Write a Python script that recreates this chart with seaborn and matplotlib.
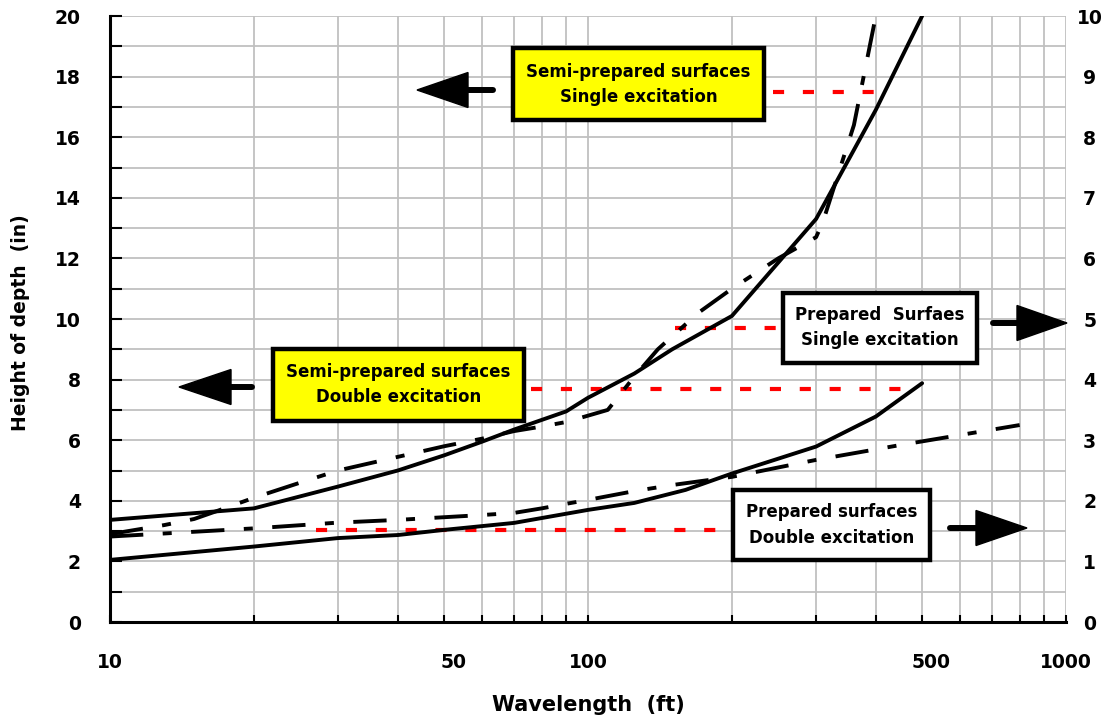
import matplotlib
matplotlib.use("Agg")
import matplotlib.pyplot as plt
import seaborn as sns
from matplotlib.patches import Rectangle, Polygon
from matplotlib.lines import Line2D
from matplotlib.transforms import ScaledTranslation
from matplotlib.ticker import FixedLocator, FixedFormatter, NullFormatter

# ---------------- data ----------------
upper_solid_x = [10, 20, 30, 40, 50, 60, 70, 90, 100, 125, 150, 200, 300, 400, 500]
upper_solid_y = [3.37, 3.75, 4.47, 5.0, 5.5, 5.95, 6.35, 6.95, 7.4, 8.2, 9.0, 10.1, 13.3, 16.9, 20.0]

upper_dash_x = [10, 13, 15, 17, 20, 25, 30, 40, 50, 60, 70, 80, 90, 110, 125, 140, 170, 200, 250, 300, 310, 360, 400]
upper_dash_y = [2.9, 3.2, 3.4, 3.7, 4.1, 4.6, 5.0, 5.45, 5.8, 6.05, 6.3, 6.45, 6.6, 7.0, 8.1, 9.0, 10.2, 11.0, 12.0, 12.7, 13.2, 16.4, 20.0]

lower_solid_x = [10, 20, 30, 40, 50, 70, 100, 125, 160, 200, 300, 400, 500]
lower_solid_y = [2.05, 2.49, 2.77, 2.87, 3.04, 3.27, 3.7, 3.93, 4.36, 4.9, 5.79, 6.78, 7.88]

lower_dash_x = [10, 20, 30, 40, 60, 70, 80, 90, 100, 125, 150, 200, 250, 300, 450, 800]
lower_dash_y = [2.82, 3.09, 3.28, 3.37, 3.53, 3.6, 3.75, 3.9, 4.03, 4.32, 4.52, 4.79, 5.1, 5.35, 5.84, 6.5]

red_levels = [17.5, 9.7, 7.7, 3.05]
red_start = [244, 152, 76, 27]
red_end = [400, 250, 464, 191]

x_tick_values = [10, 50, 100, 500, 1000]
x_tick_labels = ["10", "50", "100", "500", "1000"]
x_minor_values = [20, 30, 40, 60, 70, 80, 90, 200, 300, 400, 600, 700, 800, 900]
left_tick_values = list(range(0, 21, 2))
left_minor_values = list(range(1, 20, 2))
right_tick_values = list(range(0, 11))

box_texts = [
    ("Semi-prepared surfaces", "Single excitation"),
    ("Semi-prepared surfaces", "Double excitation"),
    ("Prepared  Surfaes", "Single excitation"),
    ("Prepared surfaces", "Double excitation"),
]

# ---------------- style ----------------
sns.set_style("white")
plt.rcParams['font.family'] = ['DejaVu Sans']
plt.rcParams['font.weight'] = 'bold'
plt.rcParams['lines.scale_dashes'] = False
for key in ['text.color', 'axes.labelcolor', 'xtick.color', 'ytick.color',
            'xtick.labelcolor', 'ytick.labelcolor']:
    plt.rcParams[key] = 'black'

W, H = 1109, 723
fig = plt.figure(figsize=(W / 100, H / 100), dpi=100)
fig.patch.set_facecolor('white')


def fp(x, y):
    return (x / W, 1 - y / H)


ax = fig.add_axes([110 / W, 1 - 622 / H, (1066 - 110) / W, (622 - 16) / H])
ax.set_xscale('log')

dash_dot = (0, (24, 14, 6.5, 14))
red_dash = (0, (8, 13.5))

sns.lineplot(x=upper_solid_x, y=upper_solid_y, ax=ax, color='black', lw=2.8,
             errorbar=None, zorder=4)
sns.lineplot(x=upper_dash_x, y=upper_dash_y, ax=ax, color='black', lw=2.8,
             errorbar=None, linestyle=dash_dot, zorder=4)
sns.lineplot(x=lower_solid_x, y=lower_solid_y, ax=ax, color='black', lw=2.8,
             errorbar=None, zorder=4)
sns.lineplot(x=lower_dash_x, y=lower_dash_y, ax=ax, color='black', lw=2.8,
             errorbar=None, linestyle=dash_dot, zorder=4)
for lvl, x0, x1 in zip(red_levels, red_start, red_end):
    sns.lineplot(x=[x0, x1], y=[lvl, lvl], ax=ax, color='#ff0000', lw=3,
                 errorbar=None, linestyle=red_dash, zorder=3)

ax.set_xlim(10, 1000)
ax.set_ylim(0, 20)
ax.set_xlabel("")
ax.set_ylabel("")

ax.xaxis.set_major_locator(FixedLocator(x_tick_values))
ax.xaxis.set_major_formatter(FixedFormatter(x_tick_labels))
ax.xaxis.set_minor_locator(FixedLocator(x_minor_values))
ax.xaxis.set_minor_formatter(NullFormatter())
ax.yaxis.set_major_locator(FixedLocator(left_tick_values))
ax.yaxis.set_minor_locator(FixedLocator(left_minor_values))
ax.yaxis.set_minor_formatter(NullFormatter())

ax.grid(which='both', axis='both', color='#c0c0c0', lw=1.3)
ax.set_axisbelow(True)

for s in ['top', 'right']:
    ax.spines[s].set_visible(False)
for s in ['left', 'bottom']:
    ax.spines[s].set_visible(True)
    ax.spines[s].set_color('black')
    ax.spines[s].set_linewidth(2.2)
    ax.spines[s].set_zorder(5)

ax.tick_params(axis='x', which='both', direction='in', length=5, width=1.5,
               color='black', labelcolor='black', bottom=True, top=False,
               pad=22, labelsize=13.5)
ax.tick_params(axis='y', which='both', direction='in', length=8.5, width=1.5,
               color='black', labelcolor='black', left=True, right=False,
               pad=21, labelsize=13.5)
for lbl in ax.get_xticklabels() + ax.get_yticklabels():
    lbl.set_fontweight('bold')

ax2 = ax.twinx()
ax2.set_ylim(0, 10)
ax2.yaxis.set_major_locator(FixedLocator(right_tick_values))
ax2.set_yticklabels([str(v) for v in right_tick_values], fontsize=13.5,
                    fontweight='bold', color='black')
ax2.tick_params(axis='y', length=0, pad=17, labelcolor='black')
for lbl in ax2.get_yticklabels():
    lbl.set_ha('center')
for s in ax2.spines.values():
    s.set_visible(False)
ax2.grid(False)

# the reference draws the "50" and "500" labels slightly right of their gridlines
shift = ScaledTranslation(9 / 100, 0, fig.dpi_scale_trans)
major_ticks = ax.xaxis.get_major_ticks()
for i in (1, 3):
    lab = major_ticks[i].label1
    lab.set_transform(lab.get_transform() + shift)

# axis titles
fig.text(*fp(21, 323), "Height of depth  (in)", rotation=90, ha='center', va='center',
         fontsize=13.5, fontweight='bold', color='black')
fig.text(*fp(588, 705), "Wavelength  (ft)", ha='center', va='center',
         fontsize=15, fontweight='bold', color='black')

# annotation boxes: (x0, y0, x1, y1, facecolor, line1 y, line2 y)
boxes = [
    (513, 48, 764, 120, '#ffff00', 72, 97),
    (273, 349, 524, 421, '#ffff00', 372, 397),
    (783, 293, 977, 363, 'white', 315, 340),
    (733, 490, 930, 560, 'white', 512, 538),
]
for (x0, y0, x1, y1, fc, ya, yb), (t1, t2) in zip(boxes, box_texts):
    bl = fp(x0, y1)
    rect = Rectangle(bl, (x1 - x0) / W, (y1 - y0) / H, transform=fig.transFigure,
                     facecolor=fc, edgecolor='black', lw=3.2, zorder=10)
    fig.add_artist(rect)
    cx = (x0 + x1) / 2
    fig.text(*fp(cx, ya), t1, ha='center', va='center', fontsize=12,
             fontweight='bold', color='black', zorder=11)
    fig.text(*fp(cx, yb), t2, ha='center', va='center', fontsize=12,
             fontweight='bold', color='black', zorder=11)

# arrows: (tip x, y, head base x, tail x)
arrows = [
    (417, 90, 468, 493),
    (179, 387, 231, 252),
    (1067, 323, 1017, 993),
    (1027, 528, 976, 950),
]
for tx, ty, bx, tl in arrows:
    head = Polygon([fp(tx, ty), fp(bx, ty - 17.5), fp(bx, ty + 17.5)], closed=True,
                   transform=fig.transFigure, facecolor='black', edgecolor='black',
                   lw=1, zorder=12)
    fig.add_artist(head)
    p0 = fp(bx, ty)
    p1 = fp(tl, ty)
    tail = Line2D([p0[0], p1[0]], [p0[1], p1[1]], transform=fig.transFigure,
                  color='black', lw=4.3, solid_capstyle='round', zorder=12)
    fig.add_artist(tail)

fig.savefig("out.png", dpi=100, facecolor='white')
